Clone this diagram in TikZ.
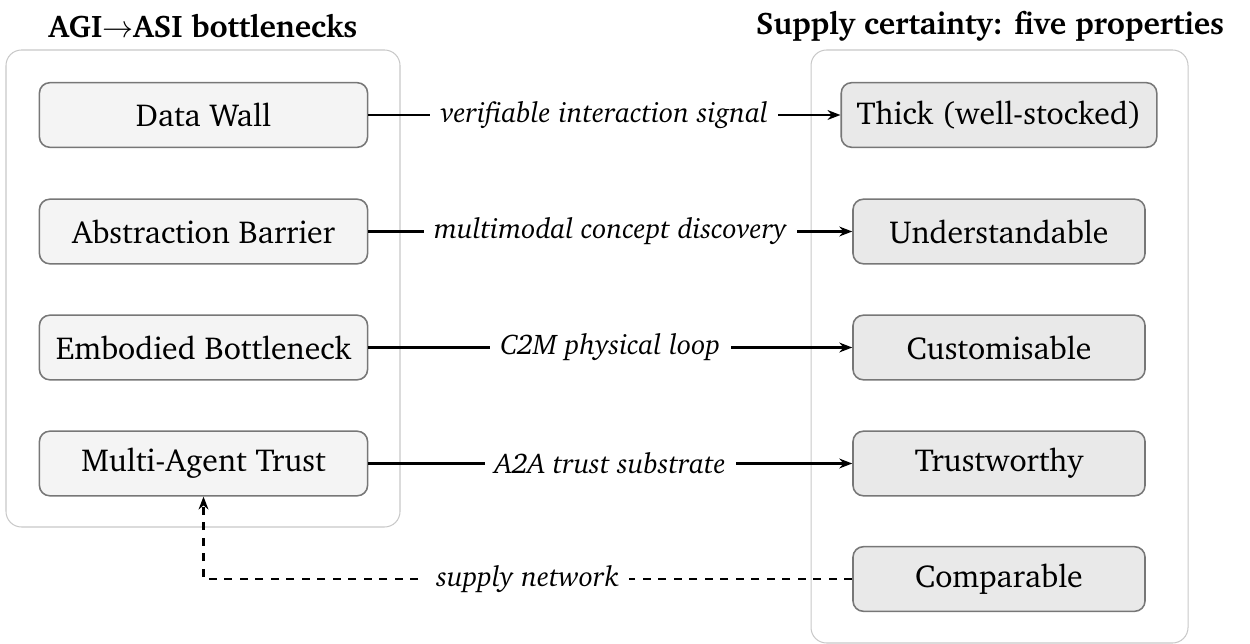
\documentclass[tikz,border=0pt]{standalone}
\usepackage[T1]{fontenc}
\usepackage{charter}
\usepackage{amssymb,amsmath}
\usepackage{tikz}
\usetikzlibrary{positioning, arrows.meta}
\definecolor{framegray}{HTML}{C8C8C8}
\definecolor{boxline}{HTML}{777777}
\definecolor{leftfill}{HTML}{F4F4F4}
\definecolor{rightfill}{HTML}{E9E9E9}
\tikzset{%
	>={Stealth[length=5pt, width=3.8pt]},
	frame/.style = {draw = framegray, rounded corners = 6pt},
	bneck/.style = {name = #1, draw = boxline, fill = leftfill, semithick, rounded corners = 4pt, minimum width = 127pt, minimum height = 25pt, inner xsep = 6pt, font = \fontsize{12.3}{14}\selectfont},
	prop/.style = {bneck = #1, fill = rightfill, minimum width = 113pt},
	link/.style = {line width = 1pt, ->},
	lbl/.style = {fill = white, inner sep = 4pt, font = \fontsize{11}{13}\selectfont\itshape},
	ttl/.style = {font = \fontsize{12.1}{14}\selectfont\bfseries}
}
\begin{document}
\begin{tikzpicture}[x=0.387pt, y=-0.387pt]
			\useasboundingbox (0,0) rectangle (1250,644);
			% frames
			\draw [frame] (6,50) rectangle (400,527);
			\draw [frame] (811,50) rectangle (1188,643);
			\node [ttl] (tl) at (203,26) {AGI$\rightarrow$ASI bottlenecks};
			\node [ttl] (tr) at (990,26) {Supply certainty: five properties};
			% bottlenecks
			\node [bneck = {dw}] at (203.5,115) {Data Wall};
			\node [bneck = {ab}] at (203.5,231.5) {Abstraction Barrier};
			\node [bneck = {eb}] at (203.5,347.5) {Embodied Bottleneck};
			\node [bneck = {mat}] at (203.5,463.5) {Multi-Agent Trust};
			% properties
			\node [prop = {thk}] at (999,115) {Thick (well-stocked)};
			\node [prop = {und}] at (999,231.5) {Understandable};
			\node [prop = {cus}] at (999,347.5) {Customisable};
			\node [prop = {tru}] at (999,463.5) {Trustworthy};
			\node [prop = {cmp}] at (999,579) {Comparable};
			\draw [link] (dw) -- node [lbl] {verifiable interaction signal} (thk);
			\draw [link] (ab) -- node [lbl] {multimodal concept discovery} (und);
			\draw [link] (eb) -- node [lbl] {C2M physical loop} (cus);
			\draw [link] (mat) -- node [lbl] {A2A trust substrate} (tru);
			\draw [link, dashed] (cmp) -| node [lbl, pos = 0.25] {supply network} (mat);
\end{tikzpicture}
\end{document}
